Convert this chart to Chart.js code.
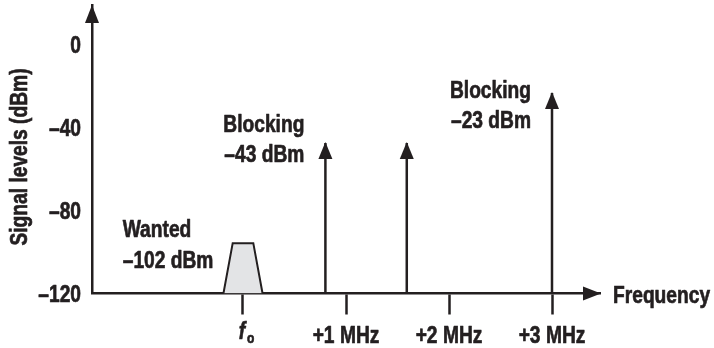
<!DOCTYPE html>
<html>
<head>
<meta charset="utf-8">
<style>
  html, body { margin: 0; padding: 0; background: #fff; }
  #wrap { width: 714px; height: 348px; position: relative; }
</style>
</head>
<body>
<div id="wrap"><canvas id="chart"></canvas></div>
<script src="https://cdn.jsdelivr.net/npm/chart.js@4.4.1/dist/chart.umd.min.js"></script>
<script>
// values
const freqTicks = [0, 1, 2, 3];
const freqTickLabels = ['f', '+1 MHz', '+2 MHz', '+3 MHz'];
const levelTicks = [-120, -80, -40, 0];
const levelTickLabels = ['–120', '–80', '–40', '0'];
const wantedFreq = [-0.19, -0.1, 0.1, 0.19];
const wantedLevel = [-120, -95.7, -95.7, -120];
const blockFreq = [0.8, 1.59, 3];
const blockLevel = [-47.3, -47.3, -23.2];
const noteLines = [['Wanted', '–102 dBm'], ['Blocking', '–43 dBm'], ['Blocking', '–23 dBm']];

const INK = '#231f20';
const FONT = '"Liberation Sans", Arial, sans-serif';
const SIZE = 24;
const SQUEEZE = 0.8; // fake a condensed face

// where each note sits relative to its mark (pixels, alphabetic baselines)
const noteLayout = [
  { ds: 0, pt: 1, dx: -110, dy: [-6, 25], align: 'left' },
  { ds: 1, pt: 1, dx: -21, dy: [-11, 19], align: 'right' },
  { ds: 3, pt: 1, dx: -21, dy: [5, 35], align: 'right' },
];

function head(ctx, x, y, dir, w, len) {
  ctx.beginPath();
  if (dir === 'up') {
    ctx.moveTo(x, y); ctx.lineTo(x - w / 2, y + len); ctx.lineTo(x + w / 2, y + len);
  } else {
    ctx.moveTo(x, y); ctx.lineTo(x - len, y - w / 2); ctx.lineTo(x - len, y + w / 2);
  }
  ctx.closePath();
  ctx.fill();
}

function text(ctx, s, x, y, align, rot) {
  ctx.save();
  ctx.translate(x, y);
  if (rot) ctx.rotate(rot);
  ctx.scale(SQUEEZE, 1);
  ctx.textAlign = align;
  ctx.fillText(s, 0, 0);
  ctx.strokeText(s, 0, 0); // a touch heavier, like the original face
  ctx.restore();
}

const overlay = {
  id: 'overlay',
  afterDraw(chart) {
    const { ctx, chartArea: a, scales: { x, y } } = chart;
    const base = y.getPixelForValue(-120);
    ctx.save();
    ctx.fillStyle = INK;
    ctx.strokeStyle = INK;
    ctx.lineWidth = 0.7;
    ctx.lineJoin = 'round';
    // axis arrowheads
    head(ctx, a.left, a.top, 'up', 14, 18);
    head(ctx, a.right + 1, base, 'right', 14, 18);
    // blocker arrowheads
    blockFreq.forEach((f, i) => {
      const p = chart.getDatasetMeta(i + 1).data[1];
      head(ctx, p.x, p.y - 1, 'up', 14, 17);
    });
    ctx.font = `bold ${SIZE}px ${FONT}`;
    ctx.textBaseline = 'alphabetic';
    // level tick labels
    y.ticks.forEach((t) => {
      text(ctx, levelTickLabels[levelTicks.indexOf(t.value)], a.left - 11, y.getPixelForValue(t.value) + 8.5, 'right');
    });
    // frequency tick labels
    x.ticks.forEach((t) => {
      const px = x.getPixelForValue(t.value);
      if (t.value === 0) {
        ctx.font = `italic bold ${SIZE}px ${FONT}`;
        text(ctx, freqTickLabels[0], px - 1, base + 45, 'center');
        ctx.font = `bold 15px ${FONT}`;
        text(ctx, 'o', px + 4, base + 49, 'left');
        ctx.font = `bold ${SIZE}px ${FONT}`;
      } else {
        text(ctx, freqTickLabels[freqTicks.indexOf(t.value)], px, base + 49, 'center');
      }
    });
    // notes
    noteLayout.forEach((n, i) => {
      const p = chart.getDatasetMeta(n.ds).data[n.pt];
      noteLines[i].forEach((s, j) => text(ctx, s, p.x + n.dx, p.y + n.dy[j], n.align));
    });
    // axis titles
    text(ctx, 'Frequency', a.right + 13, base + 9, 'left');
    text(ctx, 'Signal levels (dBm)', 27, 157, 'center', -Math.PI / 2);
    ctx.restore();
  }
};

const line = (pts, extra) => Object.assign({
  data: pts, borderColor: INK, borderWidth: 2.5, pointRadius: 0, fill: false, borderCapStyle: 'butt'
}, extra);

const datasets = [
  line(wantedFreq.map((f, i) => ({ x: f, y: wantedLevel[i] })), { fill: 'start', backgroundColor: '#e3e4e6', borderWidth: 2 }),
  ...blockFreq.map((f, i) => line([{ x: f, y: -120 }, { x: f, y: blockLevel[i] }])),
];

new Chart(document.getElementById('chart'), {
  type: 'line',
  data: { datasets },
  options: {
    responsive: true, maintainAspectRatio: false, animation: false,
    layout: { padding: { top: 5, right: 114, left: 0, bottom: 0 } },
    plugins: { legend: { display: false }, tooltip: { enabled: false } },
    scales: {
      x: {
        type: 'linear', min: -1.466, max: 3.466, z: 1,
        afterBuildTicks: (s) => { s.ticks = freqTicks.map((v) => ({ value: v })); },
        afterFit: (s) => { s.height = 54.5; s.paddingLeft = 0; s.paddingRight = 0; },
        grid: { drawOnChartArea: false, drawTicks: true, tickLength: 21, tickWidth: 2.5, tickColor: INK },
        border: { display: true, color: INK, width: 2.5 },
        ticks: { display: false },
      },
      y: {
        type: 'linear', min: -120, max: 19.3,
        afterBuildTicks: (s) => { s.ticks = levelTicks.map((v) => ({ value: v })); },
        afterFit: (s) => { s.width = 92; s.paddingTop = 0; s.paddingBottom = 0; },
        grid: { display: false },
        border: { display: true, color: INK, width: 2.5 },
        ticks: { display: false },
      },
    },
  },
  plugins: [overlay],
});
</script>
</body>
</html>
